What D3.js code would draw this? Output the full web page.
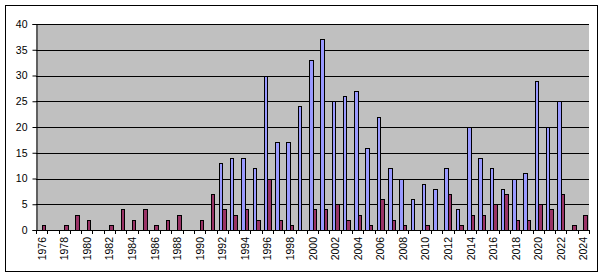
<!DOCTYPE html>
<html>
<head>
<meta charset="utf-8">
<script src="https://cdn.jsdelivr.net/npm/d3@7"></script>
<style>
  body { margin: 0; background: #fff; }
  svg { display: block; font-family: Arial, "Liberation Sans", sans-serif; }
</style>
</head>
<body>
<div id="chart"></div>
<script>
// years on the category axis
const years = d3.range(1976, 2025).map(String);

// blue series
const blueValues = [
  0, 0, 0, 0, 0, 0, 0, 0, 0, 0,
  0, 0, 0, 0, 0, 0, 13, 14, 14, 12,
  30, 17, 17, 24, 33, 37, 25, 26, 27, 16,
  22, 12, 10, 6, 9, 8, 12, 4, 20, 14,
  12, 8, 10, 11, 29, 20, 25, 0, 0
];

// dark red series
const redValues = [
  1, 0, 1, 3, 2, 0, 1, 4, 2, 4,
  1, 2, 3, 0, 2, 7, 4, 3, 4, 2,
  10, 2, 1, 0, 4, 4, 5, 2, 3, 1,
  6, 2, 1, 0, 1, 0, 7, 1, 3, 3,
  5, 7, 2, 2, 5, 4, 7, 1, 3
];

const yTicks = [0, 5, 10, 15, 20, 25, 30, 35, 40];
const seriesNames = ["blue", "red"];
const seriesColors = { blue: "#9999FF", red: "#993366" };

const width = 605, height = 278;
const plot = { left: 36, top: 24, right: 589, bottom: 230 };

const svg = d3.select("#chart").append("svg")
  .attr("width", width).attr("height", height);

// outer chart border
svg.append("rect")
  .attr("x", 5.5).attr("y", 5.5)
  .attr("width", 592).attr("height", 266)
  .attr("fill", "#fff").attr("stroke", "#000").attr("stroke-width", 1);

const x = d3.scaleBand()
  .domain(years)
  .range([plot.left, plot.right])
  .paddingInner(0.375)
  .paddingOuter(0.1875);

const x1 = d3.scaleBand()
  .domain(seriesNames)
  .range([0, x.bandwidth()]);

const y = d3.scaleLinear()
  .domain([0, 40])
  .range([plot.bottom, plot.top]);

// grey plot area
svg.append("rect")
  .attr("x", plot.left).attr("y", plot.top)
  .attr("width", plot.right - plot.left).attr("height", plot.bottom - plot.top)
  .attr("fill", "#C0C0C0");

// gridlines
svg.append("g").selectAll("line").data(yTicks.slice(1)).enter().append("line")
  .attr("x1", plot.left).attr("x2", plot.right)
  .attr("y1", d => Math.round(y(d)) + 0.5).attr("y2", d => Math.round(y(d)) + 0.5)
  .attr("stroke", "#000").attr("stroke-width", 1);

// bars (snapped to whole pixels so the outlines stay sharp)
const rows = years.map((yr, i) => ({ year: yr, blue: blueValues[i], red: redValues[i] }));
const bars = rows.flatMap(d => seriesNames.map(k => ({ year: d.year, key: k, value: d[k] })))
  .filter(e => e.value > 0);

svg.append("g").selectAll("rect").data(bars).enter().append("rect")
  .attr("x", d => Math.round(x(d.year) + x1(d.key)) + 0.5)
  .attr("y", d => Math.round(y(d.value)) + 0.5)
  .attr("width", d => Math.round(x(d.year) + x1(d.key) + x1.bandwidth()) - Math.round(x(d.year) + x1(d.key)))
  .attr("height", d => Math.round(y(0)) - Math.round(y(d.value)))
  .attr("fill", d => seriesColors[d.key])
  .attr("stroke", "#000").attr("stroke-width", 1);

// value axis
const yAxis = svg.append("g")
  .attr("transform", `translate(${plot.left + 0.5},0)`)
  .call(d3.axisLeft(y).tickValues(yTicks).tickSize(4).tickPadding(5));
yAxis.select(".domain").attr("stroke", "#000");
yAxis.selectAll("text").attr("font-size", "10.5px").attr("fill", "#000")
  .attr("font-family", "Arial, 'Liberation Sans', sans-serif");

// category axis: ticks at category boundaries
const step = x.step();
const boundaries = d3.range(years.length + 1).map(i => plot.left + i * step);
const xAxis = svg.append("g");
xAxis.append("line")
  .attr("x1", plot.left).attr("x2", plot.right)
  .attr("y1", plot.bottom + 0.5).attr("y2", plot.bottom + 0.5)
  .attr("stroke", "#000");
xAxis.selectAll("line.tick").data(boundaries).enter().append("line")
  .attr("class", "tick")
  .attr("x1", d => Math.round(d) + 0.5).attr("x2", d => Math.round(d) + 0.5)
  .attr("y1", plot.bottom).attr("y2", plot.bottom + 4)
  .attr("stroke", "#000");

xAxis.selectAll("text").data(years.filter((d, i) => i % 2 === 0)).enter().append("text")
  .attr("transform", d => `translate(${x(d) + x.bandwidth() / 2 + 4},${plot.bottom + 7}) rotate(-90)`)
  .attr("text-anchor", "end")
  .attr("font-size", "10.5px")
  .attr("fill", "#000")
  .text(d => d);
</script>
</body>
</html>
